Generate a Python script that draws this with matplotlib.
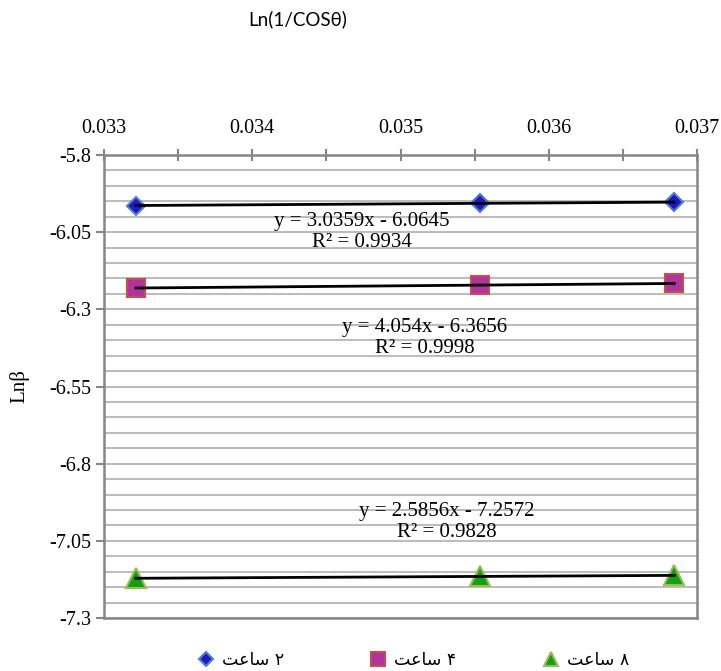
import numpy as np
import matplotlib
matplotlib.use("Agg")
import matplotlib.pyplot as plt
from matplotlib.ticker import FixedLocator, MultipleLocator, FuncFormatter

plt.rcParams['axes.unicode_minus'] = False
plt.rcParams['font.family'] = ['Liberation Serif', 'DejaVu Sans']

# ---------------- data ----------------
x_vals = [0.033215, 0.035537, 0.036846]
y_2h = [-5.9638, -5.9560, -5.9530]
y_4h = [-6.2310, -6.2213, -6.2163]
y_8h = [-7.1713, -7.1653, -7.1619]

# legend labels (Persian, shaped with presentation forms for display)
labels = ["\uFE96\uFECB\uFE8E\uFEB3 \u06F2",
          "\uFE96\uFECB\uFE8E\uFEB3 \u06F4",
          "\uFE96\uFECB\uFE8E\uFEB3 \u06F8"]

slopes = [3.0359, 4.054, 2.5856]
intercepts = [-6.0645, -6.3656, -7.2572]
r2_vals = [0.9934, 0.9998, 0.9828]
eq_texts = ["y = 3.0359x - 6.0645\nR\u00b2 = 0.9934",
            "y = 4.054x - 6.3656\nR\u00b2 = 0.9998",
            "y = 2.5856x - 7.2572\nR\u00b2 = 0.9828"]

x_ticks = [0.033, 0.034, 0.035, 0.036, 0.037]
y_ticks = [-5.8, -6.05, -6.3, -6.55, -6.8, -7.05, -7.3]

x_title = "Ln(1/COS\u03b8)"
y_title = "Ln\u03b2"

# ---------------- styling ----------------
markers = ['D', 's', '^']
msizes = [9.5, 13, 14]
faces = ['#2016CC', '#B0339E', '#14A014']
edges = ['#4F81BD', '#C0504D', '#9BBB59']
eq_pos = [(0.435, 0.833), (0.541, 0.605), (0.578, 0.207)]

W, H = 721, 671
fig = plt.figure(figsize=(W / 100, H / 100), dpi=100)
ax = fig.add_axes([104 / W, 1 - 618 / H, (697 - 104) / W, (618 - 155) / H])

series = [y_2h, y_4h, y_8h]
handles = []
for i, ys in enumerate(series):
    h, = ax.plot(x_vals, ys, linestyle='none', marker=markers[i],
                 markersize=msizes[i], markerfacecolor=faces[i],
                 markeredgecolor=edges[i], markeredgewidth=1.5,
                 label=labels[i], zorder=3)
    handles.append(h)
    xs = np.array([min(x_vals), max(x_vals)])
    ax.plot(xs, slopes[i] * xs + intercepts[i], color='black', lw=2, zorder=4)
    ax.text(eq_pos[i][0], eq_pos[i][1], eq_texts[i], transform=ax.transAxes,
            ha='center', va='center', fontsize=15,
            linespacing=1.15, zorder=5)

ax.set_xlim(0.033, 0.037)
ax.set_ylim(-7.3, -5.8)

gray = '#868686'
for s in ax.spines.values():
    s.set_color(gray)
    s.set_linewidth(1.8)

# x axis on top
ax.xaxis.tick_top()
ax.xaxis.set_major_locator(FixedLocator(x_ticks))
ax.xaxis.set_minor_locator(MultipleLocator(0.0005))
ax.xaxis.set_major_formatter(FuncFormatter(lambda v, p: f"{v:.3f}"))
ax.tick_params(axis='x', which='both', direction='inout', length=9, width=1.5,
               color=gray, top=True, bottom=False, labeltop=True,
               labelbottom=False, pad=8)
ax.tick_params(axis='x', which='major', labelsize=14.5)

# y axis
ax.yaxis.set_major_locator(FixedLocator(y_ticks))
ax.yaxis.set_minor_locator(MultipleLocator(0.05))
ax.yaxis.set_major_formatter(FuncFormatter(lambda v, p: f"{v:g}"))
ax.tick_params(axis='y', which='major', direction='out', length=6, width=1.5,
               color=gray, labelsize=14.5, pad=3)
ax.tick_params(axis='y', which='minor', length=0)

ax.grid(True, axis='y', which='both', color='#BDBDBD', lw=1.5, zorder=0)
ax.set_axisbelow(True)

ax.set_ylabel(y_title, fontsize=15)
ax.yaxis.set_label_coords(-0.125, 0.5)
ax.xaxis.set_label_position('top')
ax.set_xlabel(x_title, fontsize=13.5, family=['Lato', 'DejaVu Sans'])
ax.xaxis.set_label_coords((298 - 104) / 593, (618 - 25) / 463)

leg = fig.legend(handles=handles, labels=labels, loc='center',
                 bbox_to_anchor=(413 / W, 1 - 660 / H), ncol=3, frameon=False,
                 markerscale=0.75, handlelength=1.0, handletextpad=0.4,
                 columnspacing=4.95, prop={'family': ['DejaVu Sans'], 'size': 12.5})

fig.savefig('out.png', dpi=100)
